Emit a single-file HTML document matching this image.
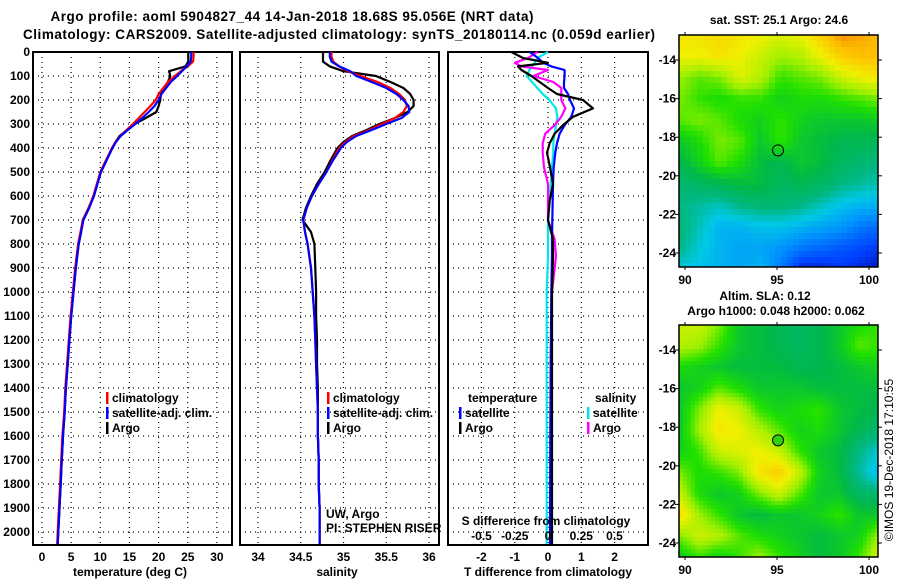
<!DOCTYPE html>
<html><head><meta charset="utf-8"><style>
html,body{margin:0;padding:0;background:#fff}
svg{display:block;font-family:"Liberation Sans",Arial,sans-serif}
.b{font-weight:bold;font-size:12px}
</style></head><body>
<svg id="c" width="900" height="580" viewBox="0 0 900 580"></svg>
<script>
// ---------- data ----------
const depths=[0,20,40,60,80,100,125,150,175,200,225,250,275,300,325,350,375,400,450,500,550,600,650,700,750,800,900,1000,1100,1200,1300,1400,1500,1600,1700,1800,1900,2000,2050];
const tClim=[26.0,26.0,25.9,25.0,23.8,22.8,21.6,20.8,20.0,19.5,18.6,17.6,16.6,15.6,14.5,13.4,12.6,12.0,11.0,10.0,9.4,8.8,8.0,7.0,6.6,6.2,5.7,5.3,4.9,4.6,4.3,4.0,3.8,3.5,3.3,3.1,2.9,2.7,2.6];
const tSat=[25.6,25.6,25.5,24.8,24.0,23.2,22.1,21.3,20.5,20.0,19.3,18.3,17.2,16.0,14.7,13.5,12.7,12.1,11.1,10.1,9.5,8.9,8.1,7.1,6.7,6.3,5.8,5.4,5.0,4.7,4.4,4.1,3.9,3.6,3.4,3.2,3.0,2.8,2.7];
const tArgo=[25.1,25.1,25.1,24.6,21.8,22.0,21.6,20.9,20.4,20.3,20.0,19.6,17.8,15.9,14.6,13.3,12.6,12.0,11.1,10.1,9.5,8.9,8.0,7.0,6.7,6.3,5.8,5.4,5.0,4.7,4.4,4.1,3.9,3.6,3.4,3.2,3.0,2.8,2.7];
const sClim=[34.86,34.86,34.88,34.95,35.05,35.2,35.4,35.55,35.65,35.72,35.74,35.70,35.6,35.45,35.3,35.12,35.02,34.95,34.87,34.8,34.71,34.63,34.57,34.53,34.55,34.58,34.62,34.64,34.66,34.67,34.68,34.69,34.7,34.7,34.71,34.71,34.72,34.72,34.72];
const sSat=[34.84,34.84,34.86,34.95,35.08,35.15,35.33,35.5,35.62,35.7,35.76,35.77,35.68,35.5,35.33,35.15,35.04,34.97,34.88,34.8,34.71,34.63,34.57,34.53,34.55,34.58,34.62,34.64,34.66,34.67,34.68,34.69,34.7,34.7,34.71,34.71,34.72,34.72,34.72];
const sArgo=[34.76,34.76,34.76,34.84,35.0,35.38,35.55,35.7,35.78,35.82,35.82,35.75,35.6,35.42,35.27,35.1,35.0,34.93,34.85,34.78,34.69,34.62,34.56,34.52,34.62,34.66,34.67,34.68,34.68,34.69,34.69,34.7,34.7,34.7,34.71,34.71,34.72,34.72,34.72];
const dDepth=[0,25,45,60,75,100,125,150,175,200,235,270,305,340,380,420,480,550,620,700,780,850,1000,1300,1600,2050];
const tArgoDiff=[-1.1,-0.75,0.0,-0.9,-0.8,-0.5,-0.25,0.0,0.27,1.05,1.35,0.75,0.45,0.2,0.05,-0.03,0.06,0.15,0.05,0.0,0.15,0.15,0.12,0.12,0.12,0.12];
const tSatDiff=[-0.55,-0.3,-0.15,0.1,0.5,0.5,0.48,0.48,0.6,0.66,0.78,0.7,0.5,0.35,0.27,0.22,0.17,0.15,0.14,0.13,0.12,0.12,0.1,0.08,0.07,0.06];
const sArgoDiff=[-0.08,-0.15,-0.25,-0.2,0.0,-0.11,0.04,0.1,0.1,0.1,0.13,0.1,0.05,-0.02,-0.04,-0.04,-0.03,0.0,0.0,0.0,0.05,0.06,0.03,0.02,0.02,0.02];
const sSatDiff=[0,-0.08,-0.1,-0.12,-0.14,-0.16,-0.12,-0.08,-0.04,0.01,0.06,0.07,0.06,0.05,0.04,0.04,0.03,0.02,0.01,0.0,0.0,0,-0.01,-0.01,-0.01,-0.01];
const depthTicks=[0,100,200,300,400,500,600,700,800,900,1000,1100,1200,1300,1400,1500,1600,1700,1800,1900,2000];
const tTicks=[0,5,10,15,20,25,30];
const sTicks=[34,34.5,35,35.5,36];
const sTickLabels=["34","34.5","35","35.5","36"];
const dtTicks=[-2,-1,0,1,2];
const dsTicks=[-0.5,-0.25,0,0.25,0.5];
const dsTickLabels=["-0.5","-0.25","0","0.25","0.5"];
const latTicks=[-14,-16,-18,-20,-22,-24];
const lonTicks=[90,95,100];
const sstGrid=[
[0.72,0.72,0.74,0.72,0.7,0.68,0.7,0.76,0.82,0.8,0.78],
[0.7,0.7,0.72,0.7,0.66,0.62,0.64,0.7,0.76,0.78,0.78],
[0.62,0.58,0.6,0.68,0.64,0.56,0.58,0.6,0.66,0.7,0.72],
[0.6,0.56,0.54,0.56,0.56,0.52,0.54,0.54,0.56,0.58,0.6],
[0.58,0.6,0.58,0.54,0.52,0.56,0.52,0.5,0.5,0.5,0.52],
[0.5,0.54,0.6,0.58,0.5,0.56,0.5,0.48,0.46,0.46,0.44],
[0.46,0.52,0.58,0.54,0.48,0.46,0.5,0.48,0.44,0.42,0.4],
[0.42,0.44,0.46,0.48,0.48,0.44,0.46,0.44,0.4,0.38,0.36],
[0.4,0.38,0.36,0.4,0.42,0.42,0.4,0.36,0.32,0.3,0.3],
[0.42,0.36,0.3,0.3,0.32,0.32,0.3,0.28,0.26,0.22,0.2],
[0.4,0.34,0.3,0.28,0.28,0.26,0.22,0.2,0.18,0.16,0.14],
[0.34,0.32,0.3,0.28,0.3,0.22,0.12,0.12,0.14,0.12,0.1]];
const slaGrid=[
[0.66,0.66,0.6,0.5,0.48,0.46,0.44,0.46,0.5,0.54,0.56],
[0.64,0.62,0.56,0.5,0.48,0.46,0.44,0.46,0.5,0.58,0.56],
[0.54,0.52,0.5,0.48,0.48,0.48,0.46,0.46,0.48,0.5,0.52],
[0.5,0.52,0.58,0.54,0.5,0.5,0.5,0.48,0.48,0.48,0.48],
[0.5,0.6,0.7,0.66,0.56,0.52,0.54,0.56,0.5,0.48,0.46],
[0.5,0.62,0.72,0.7,0.64,0.58,0.52,0.54,0.5,0.46,0.42],
[0.52,0.56,0.66,0.68,0.7,0.66,0.56,0.5,0.48,0.4,0.34],
[0.6,0.54,0.56,0.6,0.72,0.76,0.66,0.52,0.48,0.38,0.3],
[0.66,0.54,0.5,0.52,0.6,0.66,0.58,0.5,0.5,0.44,0.42],
[0.74,0.62,0.56,0.5,0.48,0.5,0.5,0.52,0.56,0.5,0.5],
[0.6,0.66,0.64,0.58,0.54,0.52,0.5,0.48,0.5,0.52,0.62],
[0.5,0.56,0.52,0.56,0.62,0.56,0.52,0.48,0.5,0.56,0.68]];
const argoLon=95.056, argoLat=-18.68;

// ---------- helpers ----------
const NS="http://www.w3.org/2000/svg";
const svg=document.getElementById('c');
function mk(tag,attrs,parent){const e=document.createElementNS(NS,tag);for(const k in attrs)e.setAttribute(k,attrs[k]);(parent||svg).appendChild(e);return e;}
function txt(s,x,y,anchor,cls,parent){const e=mk('text',{x:x,y:y,'text-anchor':anchor||'start','class':cls||'b'},parent);e.textContent=s;return e;}
const Y0=52, YB=545;
const yD=d=>Y0+d*0.24;

function panel(name,x0,x1,xs,vticks){
  const g=mk('g',{});
  
  
  depthTicks.forEach(d=>{if(d>0){const l=mk('line',{x1:x0,x2:x1,y1:yD(d),y2:yD(d),stroke:'#000','stroke-width':1.2,'stroke-dasharray':'1,4'},g);}});
  vticks.forEach(v=>{const x=xs(v);const l=mk('line',{x1:x,x2:x,y1:Y0,y2:YB,stroke:'#000','stroke-width':1.2,'stroke-dasharray':'1,4'},g);});
  const r=mk('rect',{x:x0,y:Y0,width:x1-x0,height:YB-Y0,fill:'none',stroke:'#000','stroke-width':2},g);
  
  return g;
}
function line(g,xs,vals,ds,color,name){
  const pts=vals.map((v,i)=>xs(v).toFixed(1)+','+yD(ds[i]).toFixed(1)).join(' ');
  const p=mk('polyline',{points:pts,fill:'none',stroke:color,'stroke-width':2.2,'stroke-linejoin':'round'},g);
  
  
}
function legend(g,items,x,y){
  items.forEach((it,i)=>{
    const r=mk('rect',{x:x,y:y+i*15-10,width:2.5,height:12,fill:it[1]},g);
    
    const t=txt(it[0],x+6,y+i*15,'start','b',g);
    
  });
}

// titles
let t1=txt('Argo profile: aoml 5904827_44 14-Jan-2018 18.68S 95.056E (NRT data)',292,21,'middle');

t1.setAttribute('style','font-size:13.5px');t1.setAttribute('textLength','483');
let t2=txt('Climatology: CARS2009. Satellite-adjusted climatology: synTS_20180114.nc (0.059d earlier)',339,39,'middle');

t2.setAttribute('style','font-size:13.5px');t2.setAttribute('textLength','632');

// depth labels
depthTicks.forEach(d=>{const t=txt(String(d),30,yD(d)+4,'end');});

// panel 1 temperature
const xT=v=>42+v*5.83;
const g1=panel('temperature-panel',33,232,xT,tTicks);
line(g1,xT,tArgo,depths,'#000','argo-temperature-line');
line(g1,xT,tClim,depths,'#f00','climatology-temperature-line');
line(g1,xT,tSat,depths,'#00f','satellite-temperature-line');
tTicks.forEach(v=>{const t=txt(String(v),xT(v),561,'middle');});
let a1=txt('temperature (deg C)',130,576,'middle');
legend(g1,[['climatology','#f00'],['satellite-adj. clim.','#00f'],['Argo','#000']],106,402);

// panel 2 salinity
const xS=v=>258+(v-34)*85.5;
const g2=panel('salinity-panel',240,439,xS,sTicks);
line(g2,xS,sArgo,depths,'#000','argo-salinity-line');
line(g2,xS,sClim,depths,'#f00','climatology-salinity-line');
line(g2,xS,sSat,depths,'#00f','satellite-salinity-line');
sTicks.forEach((v,i)=>{const t=txt(sTickLabels[i],xS(v),561,'middle');});
let a2=txt('salinity',337,576,'middle');
legend(g2,[['climatology','#f00'],['satellite-adj. clim.','#00f'],['Argo','#000']],327,402);
let pi1=txt('UW, Argo',326,518,'start','');pi1.setAttribute('style','font-size:12px');
let pi2=txt('PI: STEPHEN RISER',326,532,'start','');pi2.setAttribute('style','font-size:12px');

// panel 3 differences
const xdT=v=>548+v*33.3;
const xdS=v=>548+v*133;
const g3=panel('difference-panel',448,648,xdT,dtTicks);
line(g3,xdS,sSatDiff,dDepth,'#00e8e8','satellite-salinity-diff-line');
line(g3,xdS,sArgoDiff,dDepth,'#f0f','argo-salinity-diff-line');
line(g3,xdT,tSatDiff,dDepth,'#00f','satellite-temperature-diff-line');
line(g3,xdT,tArgoDiff,dDepth,'#000','argo-temperature-diff-line');
dtTicks.forEach(v=>{const t=txt(String(v),xdT(v),561,'middle');});
dsTicks.forEach((v,i)=>{const t=txt(dsTickLabels[i],xdS(v),540,'middle');});
let sd=txt('S difference from climatology',546,525,'middle');
let a3=txt('T difference from climatology',548,576,'middle');
let lt=txt('temperature',468,402);
legend(g3,[['satellite','#00f'],['Argo','#000']],459,417);
let ls=txt('salinity',595,402);
legend(g3,[['satellite','#00e8e8'],['Argo','#f0f']],587,417);

// ---------- maps ----------
const stops=[[0,[0,0,120]],[0.08,[0,0,160]],[0.15,[0,64,255]],[0.25,[0,144,255]],[0.33,[0,200,230]],[0.4,[0,184,128]],[0.47,[0,184,72]],[0.55,[32,224,0]],[0.62,[160,240,0]],[0.7,[240,240,0]],[0.78,[255,192,0]],[0.86,[232,96,0]],[1,[200,40,0]]];
function cmap(v){v=Math.max(0,Math.min(1,v));for(let i=1;i<stops.length;i++){if(v<=stops[i][0]){const a=stops[i-1],b=stops[i];const f=(v-a[0])/(b[0]-a[0]);return 'rgb('+a[1].map((c,k)=>Math.round(c+(b[1][k]-c)*f)).join(',')+')';}}return 'rgb(200,40,0)';}
function sample(grid,fx,fy){const R=grid.length-1,C=grid[0].length-1;const x=Math.max(0,Math.min(C,fx*C)),y=Math.max(0,Math.min(R,fy*R));const i=Math.min(R-1,Math.floor(y)),j=Math.min(C-1,Math.floor(x));const u=x-j,v=y-i;return grid[i][j]*(1-u)*(1-v)+grid[i][j+1]*u*(1-v)+grid[i+1][j]*(1-u)*v+grid[i+1][j+1]*u*v;}
function drawMap(name,grid,x0,y0,w,h,cell,lat14y,circleFill){
  const g=mk('g',{});
  
  
  const nx=Math.ceil(w/cell),ny=Math.ceil(h/cell);
  for(let r=0;r<ny;r++)for(let c=0;c<nx;c++){
    const val=sample(grid,(c+0.5)/nx,(r+0.5)/ny);
    const e=mk('rect',{x:x0+c*cell,y:y0+r*cell,width:Math.min(cell,w-c*cell)+0.3,height:Math.min(cell,h-r*cell)+0.3,fill:cmap(val)},g);
    
    
  }
  const f=mk('rect',{x:x0,y:y0,width:w,height:h,fill:'none',stroke:'#000','stroke-width':1.5},g);
  
  const lonX=lon=>685+(lon-90)*18.4;
  const latY=lat=>lat14y+(-14-lat)*19.3;
  latTicks.forEach(l=>{
    const y=latY(l);
    mk('line',{x1:x0-4,x2:x0,y1:y,y2:y,stroke:'#000'},g);
    mk('line',{x1:x0+w,x2:x0+w+4,y1:y,y2:y,stroke:'#000'},g);
    const t=txt(String(l),x0-3,y+4,'end','b',g);
  });
  lonTicks.forEach(l=>{
    const x=lonX(l);
    mk('line',{x1:x,x2:x,y1:y0-3,y2:y0,stroke:'#000'},g);
    mk('line',{x1:x,x2:x,y1:y0+h,y2:y0+h+3,stroke:'#000'},g);
    const t=txt(String(l),x,y0+h+17,'middle','b',g);
  });
  const ci=mk('circle',{cx:lonX(argoLon),cy:latY(argoLat),r:5.5,fill:circleFill,stroke:'#000','stroke-width':1},g);
  
}
drawMap('sst-map',sstGrid,679,35,199,232,6,60,'none');
drawMap('sla-map',slaGrid,679,325,199,232,4,350,'#30d010');
let m1=txt('sat. SST: 25.1 Argo: 24.6',779,24,'middle');
let m2=txt('Altim. SLA: 0.12',765,300,'middle');
let m3=txt('Argo h1000: 0.048 h2000: 0.062',776,315,'middle');
let cp=txt('©IMOS 19-Dec-2018 17:10:55',0,0,'middle','');
cp.setAttribute('style','font-size:12px;font-weight:normal');
cp.setAttribute('transform','translate(893,460) rotate(-90)');

</script>
</body></html>
